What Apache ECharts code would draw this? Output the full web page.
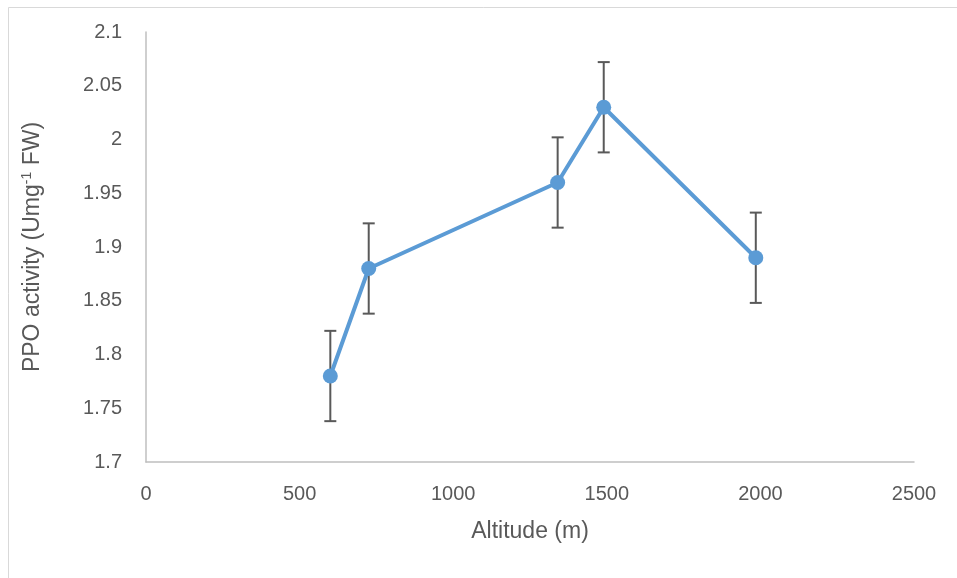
<!DOCTYPE html>
<html><head><meta charset="utf-8">
<script src="https://cdn.jsdelivr.net/npm/echarts@6/dist/echarts.min.js"></script>
<style>html,body{margin:0;padding:0;background:#fff}#c{width:957px;height:578px}</style>
</head><body><div id="c"></div>
<script>
var altitudes = [600, 725, 1340, 1490, 1985];
var ppoActivity = [1.78, 1.88, 1.96, 2.03, 1.89];
var errors = [0.042, 0.042, 0.042, 0.042, 0.042];
var xTicks = [0, 500, 1000, 1500, 2000, 2500];
var yTicks = [1.7, 1.75, 1.8, 1.85, 1.9, 1.95, 2, 2.05, 2.1];

var font = "'Liberation Sans', 'DejaVu Sans', sans-serif";
var lineData = altitudes.map(function (x, i) { return [x, ppoActivity[i]]; });
var errData = altitudes.map(function (x, i) { return [x, ppoActivity[i] - errors[i], ppoActivity[i] + errors[i]]; });

var chart = echarts.init(document.getElementById('c'));
chart.setOption({
  animation: false,
  backgroundColor: '#fff',
  graphic: [{
    type: 'rect', left: 6, top: 5,
    shape: { width: 960, height: 580 },
    style: { fill: 'none', stroke: '#d9d9d9', lineWidth: 1 }, silent: true
  }],
  grid: { left: 146, top: 32, right: 43, bottom: 116 },
  xAxis: {
    type: 'value', min: xTicks[0], max: xTicks[xTicks.length - 1], interval: 500,
    name: 'Altitude (m)', nameLocation: 'middle', nameGap: 58,
    nameTextStyle: { fontFamily: font, fontSize: 23, color: '#595959' },
    axisLine: { show: true, lineStyle: { color: '#bfbfbf', width: 1.5 } },
    axisTick: { show: false },
    splitLine: { show: false },
    axisLabel: { fontFamily: font, fontSize: 20, color: '#595959', margin: 22,
      formatter: function (v) { return String(v); } }
  },
  yAxis: {
    type: 'value', min: yTicks[0], max: yTicks[yTicks.length - 1], interval: 0.05,
    name: '{n|PPO activity (Umg}{s|-1}{n| FW)}', nameLocation: 'middle', nameGap: 100,
    nameTextStyle: {
      rich: {
        n: { fontFamily: font, fontSize: 23, color: '#595959' },
        s: { fontFamily: font, fontSize: 14, color: '#595959', verticalAlign: 'top', padding: [0, 0, 12, 0] }
      }
    },
    axisLine: { show: true, lineStyle: { color: '#bfbfbf', width: 1.5 } },
    axisTick: { show: false },
    splitLine: { show: false },
    axisLabel: {
      fontFamily: font, fontSize: 20, color: '#595959', margin: 24,
      formatter: function (v) { return String(parseFloat(v.toFixed(2))); }
    }
  },
  series: [{
    type: 'custom',
    data: errData,
    z: 1,
    renderItem: function (params, api) {
      var x = api.value(0);
      var lo = api.coord([x, api.value(1)]);
      var hi = api.coord([x, api.value(2)]);
      var w = 6;
      var st = { stroke: '#595959', lineWidth: 2 };
      return {
        type: 'group',
        children: [
          { type: 'line', shape: { x1: lo[0], y1: lo[1], x2: hi[0], y2: hi[1] }, style: st },
          { type: 'line', shape: { x1: lo[0] - w, y1: lo[1], x2: lo[0] + w, y2: lo[1] }, style: st },
          { type: 'line', shape: { x1: hi[0] - w, y1: hi[1], x2: hi[0] + w, y2: hi[1] }, style: st }
        ]
      };
    }
  }, {
    type: 'line',
    data: lineData,
    z: 3,
    symbol: 'circle',
    symbolSize: 15,
    lineStyle: { color: '#5b9bd5', width: 4 },
    itemStyle: { color: '#5b9bd5' }
  }]
});
</script></body></html>
